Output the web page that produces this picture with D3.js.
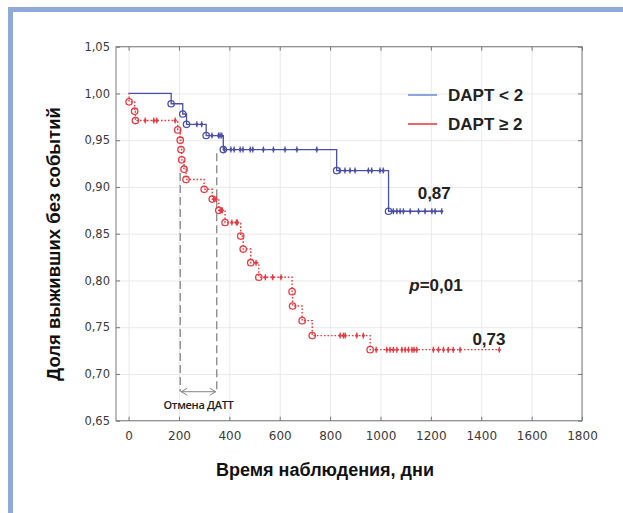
<!DOCTYPE html>
<html>
<head>
<meta charset="utf-8">
<script src="https://cdn.jsdelivr.net/npm/d3@7"></script>
<style>
  html, body { margin: 0; padding: 0; background: #ffffff; }
  svg { display: block; }
</style>
</head>
<body>
<svg id="chart" width="623" height="513"></svg>
<script>
// Kaplan–Meier curves: event-free survival by DAPT score group
const xTicks = [0, 200, 400, 600, 800, 1000, 1200, 1400, 1600, 1800];
const yTicks = [0.65, 0.70, 0.75, 0.80, 0.85, 0.90, 0.95, 1.00, 1.05];

const seriesNames = ["DAPT < 2", "DAPT \u2265 2"];

// DAPT < 2: event days, survival after each event, censored days
const lowEventDays = [169, 215, 230, 308, 376, 826, 1032];
const lowEventSurv = [0.989, 0.978, 0.967, 0.955, 0.940, 0.9175, 0.874];
const lowCensorDays = [271, 290, 331, 357, 363, 370, 380, 406, 419, 443, 454, 483, 493,
  535, 575, 621, 668, 747, 839, 859, 879, 899, 952, 965, 998, 1011,
  1051, 1065, 1078, 1091, 1118, 1151, 1177, 1204, 1217, 1243];

// DAPT ≥ 2
const highEventDays = [2, 24, 27, 195, 205, 208, 211, 220, 228, 300, 332, 358, 383,
  445, 455, 485, 517, 649, 651, 689, 729, 959];
const highEventSurv = [0.991, 0.981, 0.971, 0.961, 0.950, 0.940, 0.929, 0.919, 0.908,
  0.8975, 0.887, 0.875, 0.862, 0.8475, 0.8336, 0.819, 0.8034, 0.788, 0.7727, 0.757, 0.741, 0.726];
const highCensorDays = [66, 100, 112, 185, 338, 348, 364, 372, 410, 428, 432, 506, 543, 572, 605,
  840, 853, 860, 906, 932, 983, 1025, 1038, 1051, 1065, 1085, 1098, 1111, 1125, 1133, 1144,
  1210, 1230, 1250, 1269, 1289, 1316, 1472];

// Antiplatelet therapy withdrawal window (days) and p-value
const withdrawalWindow = [205, 350];
const withdrawalLabel = "Отмена ДАТТ";
const pValue = 0.01;

const xTitle = "Время наблюдения, дни";
const yTitle = "Доля выживших без событий";

const colLow = "#4c4fa6", colHigh = "#e63a42";
const colLowLegend = "#7292d2", colHighLegend = "#e8404a";

const svg = d3.select("#chart");
const plot = { left: 116, right: 582, top: 46.7, bottom: 420.7 };

const x = d3.scaleLinear().domain([-50, 1800]).range([plot.left, plot.right]);
const y = d3.scaleLinear().domain([0.65, 1.05]).range([plot.bottom, plot.top]);

const comma = v => d3.format(".2f")(v).replace(".", ",");

// page frame
svg.append("rect").attr("x", 0).attr("y", 0).attr("width", 623).attr("height", 513).attr("fill", "#ffffff");
svg.append("rect").attr("x", 8).attr("y", 7).attr("width", 615).attr("height", 5).attr("fill", "#8fa9d8");
svg.append("rect").attr("x", 8).attr("y", 7).attr("width", 5).attr("height", 506).attr("fill", "#8fa9d8");

// grid
svg.append("g").attr("transform", `translate(0,${plot.bottom})`)
  .call(d3.axisBottom(x).tickValues(xTicks).tickSize(-(plot.bottom - plot.top)).tickFormat(""))
  .call(g => g.select(".domain").remove())
  .call(g => g.selectAll("line").attr("stroke", "#e9e9e9").attr("stroke-width", 1));
svg.append("g").attr("transform", `translate(${plot.left},0)`)
  .call(d3.axisLeft(y).tickValues(yTicks).tickSize(-(plot.right - plot.left)).tickFormat(""))
  .call(g => g.select(".domain").remove())
  .call(g => g.selectAll("line").attr("stroke", "#e9e9e9").attr("stroke-width", 1));

// axes with inward ticks
const tickFont = "'DejaVu Sans', sans-serif";
const styleAxis = g => {
  g.select(".domain").remove();
  g.selectAll("line").attr("stroke", "#777");
  g.selectAll("text").attr("fill", "#3a3a3a").style("font-family", tickFont).style("font-size", "12px");
};
svg.append("g").attr("transform", `translate(0,${plot.bottom})`)
  .call(d3.axisBottom(x).tickValues(xTicks).tickSize(-4).tickPadding(11).tickFormat(d3.format("d")))
  .call(styleAxis);
svg.append("g").attr("transform", `translate(${plot.left},0)`)
  .call(d3.axisLeft(y).tickValues(yTicks).tickSize(-4).tickPadding(6).tickFormat(comma))
  .call(styleAxis)
  .call(g => g.selectAll("text").style("font-size", "11.5px"));
svg.append("g").attr("transform", `translate(0,${plot.top})`)
  .call(d3.axisTop(x).tickValues(xTicks).tickSize(-4).tickFormat(""))
  .call(styleAxis);
svg.append("g").attr("transform", `translate(${plot.right},0)`)
  .call(d3.axisRight(y).tickValues(yTicks).tickSize(-4).tickFormat(""))
  .call(styleAxis);

svg.append("rect")
  .attr("x", plot.left).attr("y", plot.top)
  .attr("width", plot.right - plot.left).attr("height", plot.bottom - plot.top)
  .attr("fill", "none").attr("stroke", "#7a7a7a").attr("stroke-width", 1);

// axis titles
svg.append("text")
  .attr("x", 325).attr("y", 476).attr("text-anchor", "middle")
  .style("font-family", "'Liberation Sans', Arial, sans-serif").style("font-weight", "bold").style("font-size", "18px")
  .attr("fill", "#111").text(xTitle);
svg.append("text")
  .attr("transform", "translate(60,244) rotate(-90)").attr("text-anchor", "middle")
  .style("font-family", "'Liberation Sans', Arial, sans-serif").style("font-weight", "bold").style("font-size", "18.5px")
  .attr("fill", "#111").text(yTitle);

// withdrawal window: dashed verticals and double arrow
const gW = svg.append("g").attr("stroke", "#858585").attr("fill", "none");
gW.append("line").attr("x1", x(withdrawalWindow[0])).attr("x2", x(withdrawalWindow[0]))
  .attr("y1", y(0.915)).attr("y2", y(0.681)).attr("stroke-width", 1.3).attr("stroke-dasharray", "8,4");
gW.append("line").attr("x1", x(withdrawalWindow[1])).attr("x2", x(withdrawalWindow[1]))
  .attr("y1", y(0.936)).attr("y2", y(0.681)).attr("stroke-width", 1.3).attr("stroke-dasharray", "8,4");
const ay = y(0.681), ax0 = x(withdrawalWindow[0]) + 1, ax1 = x(withdrawalWindow[1]) - 1;
gW.append("line").attr("x1", ax0).attr("x2", ax1).attr("y1", ay).attr("y2", ay).attr("stroke-width", 1);
gW.append("path").attr("d", `M${ax0 + 6},${ay - 3.5}L${ax0},${ay}L${ax0 + 6},${ay + 3.5}`).attr("stroke-width", 1);
gW.append("path").attr("d", `M${ax1 - 6},${ay - 3.5}L${ax1},${ay}L${ax1 - 6},${ay + 3.5}`).attr("stroke-width", 1);
svg.append("text")
  .attr("x", (x(withdrawalWindow[0]) + x(withdrawalWindow[1])) / 2).attr("y", 409).attr("text-anchor", "middle")
  .style("font-family", "'Open Sans', sans-serif").style("font-weight", "600").style("font-size", "11px")
  .style("letter-spacing", "-0.3px").attr("fill", "#222").text(withdrawalLabel);

// KM helpers
function kmPoints(days, surv, endDay) {
  const pts = [[0, 1]];
  days.forEach((d, i) => pts.push([d, surv[i]]));
  pts.push([endDay, surv[surv.length - 1]]);
  return pts;
}
function survAt(days, surv, t) {
  let s = 1;
  days.forEach((d, i) => { if (d <= t) s = surv[i]; });
  return s;
}
const kmLine = d3.line().x(d => x(d[0])).y(d => y(d[1])).curve(d3.curveStepAfter);

function drawSeries(days, surv, censors, color, dash) {
  const g = svg.append("g");
  const endDay = d3.max(censors.concat(days));
  g.append("path").datum(kmPoints(days, surv, endDay))
    .attr("d", kmLine).attr("fill", "none").attr("stroke", color)
    .attr("stroke-width", dash ? 1.4 : 1.3).attr("stroke-dasharray", dash || null);
  // censored observations
  const c = g.selectAll("g.cens").data(censors).join("g")
    .attr("transform", d => `translate(${x(d)},${y(survAt(days, surv, d))})`);
  c.append("line").attr("y1", -3).attr("y2", 3).attr("stroke", color).attr("stroke-width", 1.3);
  c.append("circle").attr("r", 1.5).attr("fill", color);
  // events
  g.selectAll("circle.ev").data(days.map((d, i) => [d, surv[i]])).join("circle")
    .attr("cx", d => x(d[0])).attr("cy", d => y(d[1])).attr("r", 3.2)
    .attr("fill", "none").attr("stroke", color).attr("stroke-width", 1.3);
  return endDay;
}
const endLow = drawSeries(lowEventDays, lowEventSurv, lowCensorDays, colLow, null);
const endHigh = drawSeries(highEventDays, highEventSurv, highCensorDays, colHigh, "1.6,1.9");

// final survival labels
const labFont = "'Liberation Sans', Arial, sans-serif";
const lastLow = lowEventSurv[lowEventSurv.length - 1];
const lastHigh = highEventSurv[highEventSurv.length - 1];
svg.append("text").attr("x", x(endLow) - 24).attr("y", y(lastLow) - 12)
  .style("font-family", labFont).style("font-weight", "bold").style("font-size", "17px")
  .attr("fill", "#222").text(comma(lastLow));
svg.append("text").attr("x", x(endHigh) - 27).attr("y", y(lastHigh) - 5)
  .style("font-family", labFont).style("font-weight", "bold").style("font-size", "17px")
  .attr("fill", "#222").text(comma(lastHigh));

// p-value
const pt = svg.append("text").attr("x", 436).attr("y", 291).attr("text-anchor", "middle")
  .style("font-family", labFont).style("font-weight", "bold").style("font-size", "17px").attr("fill", "#222");
pt.append("tspan").style("font-style", "italic").text("p");
pt.append("tspan").text("=" + comma(pValue));

// legend
const legend = svg.append("g");
const legCols = [colLowLegend, colHighLegend];
seriesNames.forEach((name, i) => {
  const ly = 95 + i * 29;
  legend.append("line").attr("x1", 408).attr("x2", 437).attr("y1", ly).attr("y2", ly)
    .attr("stroke", legCols[i]).attr("stroke-width", 1.6);
  legend.append("text").attr("x", 448).attr("y", ly + 6)
    .style("font-family", labFont).style("font-weight", "bold").style("font-size", "17px")
    .attr("fill", "#222").text(name);
});
</script>
</body>
</html>
